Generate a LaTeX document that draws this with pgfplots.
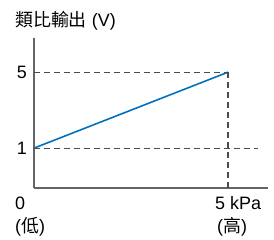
\documentclass[border=0pt]{standalone}
\usepackage{fontspec}
\setmainfont{Liberation Sans}
\newfontfamily\cjk{Noto Sans CJK TC}
\usepackage{pgfplots}
\pgfplotsset{compat=1.18}
\definecolor{lineblue}{RGB}{0,112,192}
\definecolor{axgray}{RGB}{100,100,100}
\definecolor{dashgray}{RGB}{75,75,75}
\begin{document}
\fontsize{18}{22}\selectfont
\begin{tikzpicture}
\useasboundingbox (-34bp,-52bp) rectangle (240bp,188bp);
\begin{axis}[
  at={(0,0)}, anchor=south west,
  scale only axis, width=234bp, height=150bp,
  xmin=0, xmax=6.03, ymin=-1.1, ymax=6.8,
  axis x line=bottom, axis y line=left,
  axis line style={-, axgray, line width=1.6pt},
  xtick={5}, xticklabels={},
  ytick={1,5},
  /pgf/number format/assume math mode=true,
  ticklabel style={font=\fontsize{18}{22}\selectfont},
  y tick style={draw=none},
  x tick style={dashgray, line width=1pt},
  major tick length=6bp, tick align=inside,
  yticklabel style={xshift=-1bp},
  clip=false,
]
\addplot[lineblue, line width=1.6pt] coordinates {(0,1) (5,5)};
\addplot[dashgray, line width=1.1pt, dash pattern=on 6bp off 4bp] coordinates {(0,5) (5,5)};
\addplot[dashgray, line width=1.1pt, dash pattern=on 6bp off 4bp] coordinates {(0,1) (5.77,1)};
\addplot[dashgray, line width=1.1pt, dash pattern=on 6bp off 4bp] coordinates {(5,5) (5,-1.1)};
\end{axis}
\node[anchor=base west, inner sep=0] at (-19bp,161bp) {{\cjk 類比輸出} (V)};
\node[anchor=base west, inner sep=0] at (-19bp,-21bp) {0};
\node[anchor=base west, inner sep=0] at (-19bp,-44bp) {({\cjk 低})};
\node[anchor=base west, inner sep=0] at (181bp,-21bp) {5 kPa};
\node[anchor=base west, inner sep=0] at (183bp,-44bp) {({\cjk 高})};
\end{tikzpicture}
\end{document}
